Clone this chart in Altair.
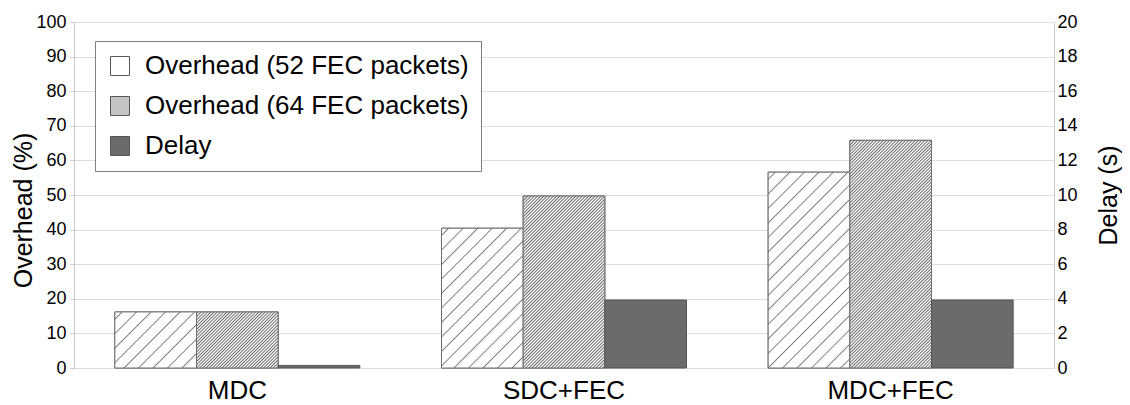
import altair as alt
import pandas as pd

# ---- data ----
categories = ["MDC", "SDC+FEC", "MDC+FEC"]
series_names = ["Overhead (52 FEC packets)", "Overhead (64 FEC packets)", "Delay"]
overhead_52 = [16.2, 40.4, 56.6]
overhead_64 = [16.2, 49.7, 65.8]
delay_s = [0.15, 3.93, 3.93]
overhead_ticks = list(range(0, 101, 10))
delay_ticks = list(range(0, 21, 2))

FONT = "Liberation Sans"
W, H = 980, 346
PAD_INNER, PAD_OUTER = 0.25, 0.125

rows = []
for i, c in enumerate(categories):
    rows.append({"category": c, "series": series_names[0], "overhead": overhead_52[i]})
    rows.append({"category": c, "series": series_names[1], "overhead": overhead_64[i]})
    rows.append({"category": c, "series": series_names[2], "delay": delay_s[i]})
df = pd.DataFrame(rows)


def hatch_fill(w, h, spacing, line_color, bg_color, half_width):
    """Linear gradient that renders as 45-degree '/' hatching inside a w x h box."""
    L = w + h
    c = L / (w * w + h * h)
    a = half_width / L
    stops = [{"offset": 0.0, "color": bg_color}]
    f = spacing / 2.0
    while f < L:
        t = f / L
        stops.append({"offset": round(max(t - a, 0.0), 6), "color": bg_color})
        stops.append({"offset": round(t, 6), "color": line_color})
        stops.append({"offset": round(min(t + a, 1.0), 6), "color": bg_color})
        f += spacing
    stops.append({"offset": 1.0, "color": bg_color})
    return {"gradient": "linear", "x1": 0, "y1": 0, "x2": c * w, "y2": c * h, "stops": stops}


x_enc = alt.X(
    "category:N",
    sort=categories,
    scale=alt.Scale(domain=categories, paddingInner=PAD_INNER, paddingOuter=PAD_OUTER),
    axis=alt.Axis(title=None, labelFont=FONT, labelFontSize=26, labelAngle=0, labelColor="black",
                  ticks=False, domain=False, grid=False, labelPadding=9),
)
xo_enc = alt.XOffset("series:N", scale=alt.Scale(domain=series_names, paddingInner=0, paddingOuter=0))
color_enc = alt.Color(
    "series:N",
    scale=alt.Scale(domain=series_names, range=["#ffffff", "#c4c4c4", "#6b6b6b"]),
    legend=alt.Legend(
        orient="none", legendX=21, legendY=19, title=None,
        fillColor="white", strokeColor="#7f7f7f", padding=12,
        labelFont=FONT, labelFontSize=26, labelColor="black", labelLimit=800,
        symbolType="square", symbolSize=360, symbolStrokeColor="#555555",
        symbolStrokeWidth=1, symbolOpacity=1, rowPadding=14, labelOffset=12,
    ),
)
y_over = alt.Y(
    "overhead:Q",
    scale=alt.Scale(domain=[0, 100], nice=False, zero=True),
    axis=alt.Axis(
        title="Overhead (%)", orient="left", values=overhead_ticks,
        labelFont=FONT, labelFontSize=18, labelColor="black", labelPadding=4,
        tickSize=4, tickColor="#c8c8c8", domainColor="#c8c8c8",
        grid=True, gridColor="#dedede",
        titleFont=FONT, titleFontSize=25, titleFontWeight="normal", titleColor="black",
        titleAngle=270, titleX=-51, titleY=188, titleAlign="center", titleBaseline="middle",
    ),
)
y_delay = alt.Y(
    "delay:Q",
    scale=alt.Scale(domain=[0, 20], nice=False, zero=True),
    axis=alt.Axis(
        title="Delay (s)", orient="right", values=delay_ticks,
        labelFont=FONT, labelFontSize=18, labelColor="black", labelPadding=3,
        ticks=False, domainColor="#c8c8c8", grid=False,
        titleFont=FONT, titleFontSize=25, titleFontWeight="normal", titleColor="black",
        titleAngle=270, titleX=54, titleY=173, titleAlign="center", titleBaseline="middle",
    ),
)

base = alt.Chart(df)

over_base = base.transform_filter(alt.datum.series != "Delay").mark_bar(
    stroke="#6e6e6e", strokeWidth=1
).encode(x=x_enc, xOffset=xo_enc, y=y_over, color=color_enc)

bar_w = W / 3 * (1 - PAD_INNER) / 3
overlays = []
hatch_styles = [
    (0, overhead_52, 14.5, "#7a7a7a", 1.3),
    (1, overhead_64, 3.2, "#6a6a6a", 1.4),
]
for si, vals, spacing, line_color, hw in hatch_styles:
    for ci, cat in enumerate(categories):
        bar_h = vals[ci] / 100.0 * H
        grad = hatch_fill(bar_w, bar_h, spacing, line_color, "#ffffff", hw)
        overlays.append(
            base.transform_filter(
                (alt.datum.series == series_names[si]) & (alt.datum.category == cat)
            ).mark_bar(fill=grad, stroke="#6e6e6e", strokeWidth=1).encode(
                x=x_enc, xOffset=xo_enc, y=y_over
            )
        )

delay_layer = base.transform_filter(alt.datum.series == "Delay").mark_bar(
    stroke="#555555", strokeWidth=1
).encode(x=x_enc, xOffset=xo_enc, y=y_delay, color=color_enc)

chart = (
    alt.layer(alt.layer(over_base, *overlays), delay_layer)
    .resolve_scale(y="independent")
    .properties(
        width=W, height=H, autosize="none",
        padding={"left": 66, "top": 14, "right": 68, "bottom": 36},
        background="white",
    )
    .configure_view(stroke=None)
)

chart.save("out.html", embed_options={"renderer": "svg", "actions": False})
